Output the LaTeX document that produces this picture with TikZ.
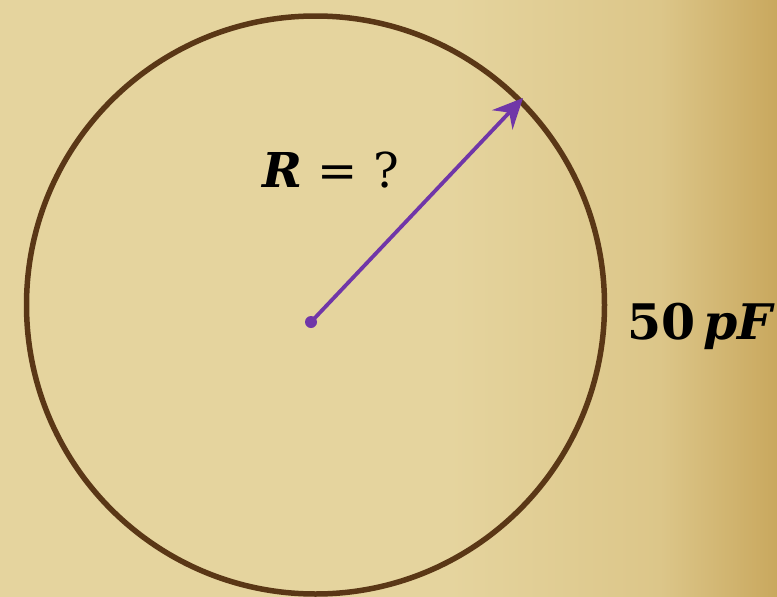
\documentclass[tikz,border=0pt]{standalone}
\usepackage{fontspec}
\setmainfont{DejaVu Serif}
\usetikzlibrary{arrows.meta}
\definecolor{paper}{HTML}{E5D49E}
\definecolor{papermid}{HTML}{DCC689}
\definecolor{paperdark}{HTML}{C9A85E}
\definecolor{ringbrown}{HTML}{5A3716}
\definecolor{arrowpurple}{HTML}{7036A8}
\tikzset{
  ring/.style={draw=ringbrown, line width=5.5pt},
  radius arrow/.style={draw=arrowpurple, line width=3.8pt, -{Stealth[length=30pt,width=28pt,inset=10pt]}},
  label text/.style={inner sep=0pt, anchor=center, text=black}
}
\begin{document}
\begin{tikzpicture}[x=1pt,y=-1pt]
\useasboundingbox (0,0) rectangle (777,597);
\fill[paper] (0,0) rectangle (777,597);
\shade[left color=paper, right color=papermid] (450,0) rectangle (660,597);
\shade[left color=papermid, right color=paperdark] (660,0) rectangle (777,597);
\node[circle, ring, minimum size=578pt, inner sep=0pt] (ring) at (315.5,305) {};
\coordinate (c) at (311,322);
\fill[arrowpurple] (c) circle (6pt);
\coordinate (tip) at (523,98);
\draw[radius arrow] (c) -- (tip);
\node[label text] (R) at (331,170) {\fontsize{48}{52}\selectfont\bfseries\itshape R\mdseries\upshape\ =\ ?};
\node[label text] (cap) at (700,326) {\fontsize{49}{54}\selectfont\bfseries 50\hspace{8pt}\itshape pF};
\end{tikzpicture}
\end{document}
